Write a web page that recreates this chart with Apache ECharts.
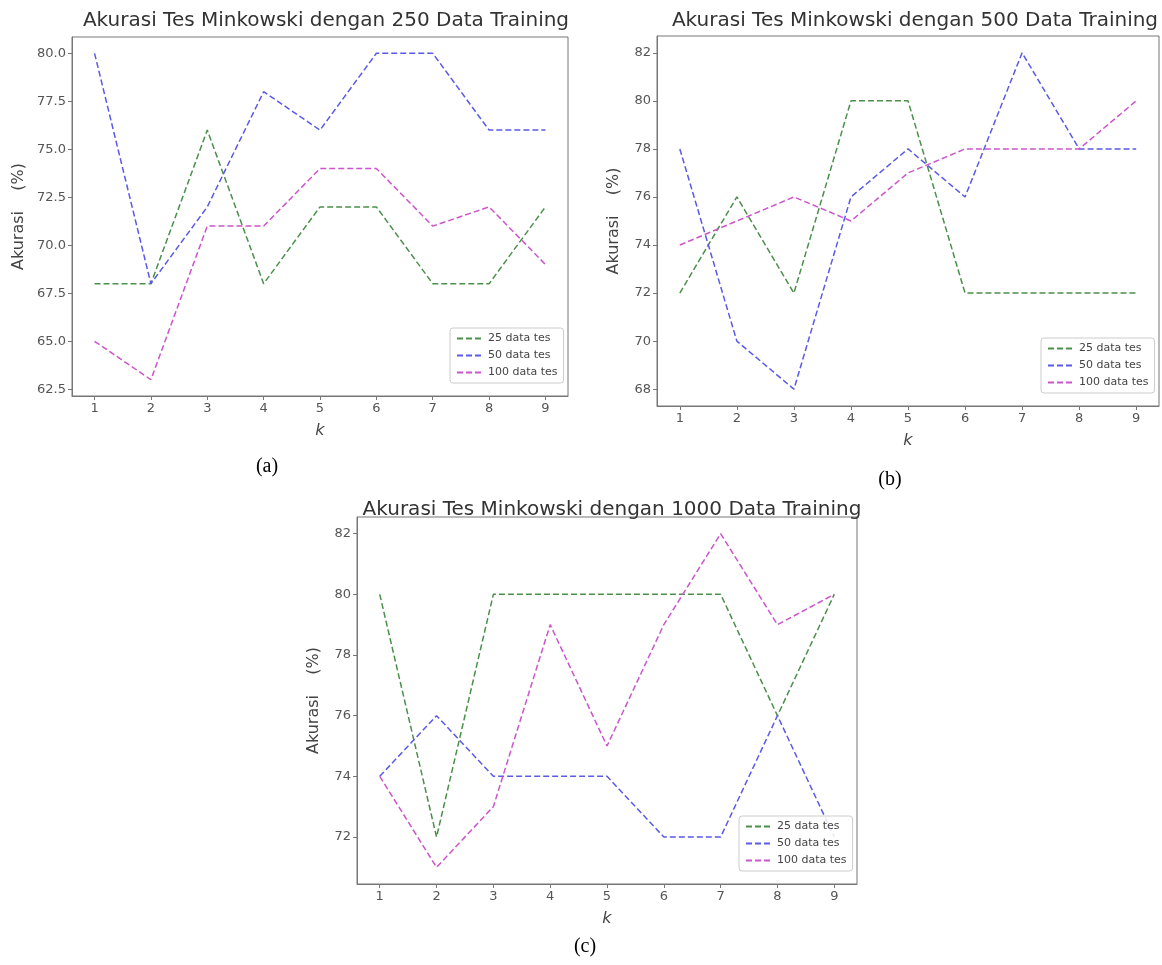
<!DOCTYPE html>
<html>
<head>
<meta charset="utf-8">
<script src="https://cdn.jsdelivr.net/npm/echarts@6/dist/echarts.min.js"></script>
<style>
  html, body { margin: 0; padding: 0; background: #fff; }
  #chart { width: 1162px; height: 965px; }
</style>
</head>
<body>
<div id="chart"></div>
<script>
// k values and tick labels
const kValues = [1, 2, 3, 4, 5, 6, 7, 8, 9]
const seriesNames = ['25 data tes', '50 data tes', '100 data tes']

// (a) 250 data training
const acc250_25 = [68, 68, 76, 68, 72, 72, 68, 68, 72]
const acc250_50 = [80, 68, 72, 78, 76, 80, 80, 76, 76]
const acc250_100 = [65, 63, 71, 71, 74, 74, 71, 72, 69]
const ticks250 = [62.5, 65, 67.5, 70, 72.5, 75, 77.5, 80]

// (b) 500 data training
const acc500_25 = [72, 76, 72, 80, 80, 72, 72, 72, 72]
const acc500_50 = [78, 70, 68, 76, 78, 76, 82, 78, 78]
const acc500_100 = [74, 75, 76, 75, 77, 78, 78, 78, 80]
const ticks500 = [68, 70, 72, 74, 76, 78, 80, 82]

// (c) 1000 data training
const acc1000_25 = [80, 72, 80, 80, 80, 80, 80, 76, 80]
const acc1000_50 = [74, 76, 74, 74, 74, 72, 72, 76, 72]
const acc1000_100 = [74, 71, 73, 79, 75, 79, 82, 79, 80]
const ticks1000 = [72, 74, 76, 78, 80, 82]

const colors = ['#4a8f4a', '#5a5ae6', '#cc55cc']

const panels = [
  { title: 'Akurasi Tes Minkowski dengan 250 Data Training', caption: '(a)',
    data: [acc250_25, acc250_50, acc250_100], ticks: ticks250, decimals: 1,
    grid: { left: 72, top: 37, width: 496, height: 359 }, titleX: 321, titleY: 6,
    capX: 262, capY: 452, nameGap: 45 },
  { title: 'Akurasi Tes Minkowski dengan 500 Data Training', caption: '(b)',
    data: [acc500_25, acc500_50, acc500_100], ticks: ticks500, decimals: 0,
    grid: { left: 657, top: 36, width: 502, height: 370 }, titleX: 910, titleY: 6,
    capX: 885, capY: 465, nameGap: 35 },
  { title: 'Akurasi Tes Minkowski dengan 1000 Data Training', caption: '(c)',
    data: [acc1000_25, acc1000_50, acc1000_100], ticks: ticks1000, decimals: 0,
    grid: { left: 357, top: 517, width: 500, height: 367 }, titleX: 607, titleY: 495,
    capX: 580, capY: 932, nameGap: 35 }
]

function range(arrs) {
  const all = arrs.flat()
  const lo = Math.min(...all)
  const hi = Math.max(...all)
  const pad = (hi - lo) * 0.05
  return [lo - pad, hi + pad]
}

const option = {
  animation: false,
  title: [],
  legend: [],
  grid: [],
  xAxis: [],
  yAxis: [],
  series: []
}

panels.forEach((p, i) => {
  const [yMin, yMax] = range(p.data)
  option.title.push({
    text: p.title, left: p.titleX, top: p.titleY, textAlign: 'center',
    textStyle: { fontFamily: 'DejaVu Sans', fontSize: 20, fontWeight: 'normal', color: '#333' }
  })
  option.title.push({
    text: p.caption, left: p.capX, top: p.capY, textAlign: 'center',
    textStyle: { fontFamily: 'Liberation Serif', fontSize: 20, fontWeight: 'normal', color: '#000' }
  })
  option.grid.push({
    ...p.grid, show: true, borderColor: '#777', borderWidth: 1, backgroundColor: '#fff'
  })
  option.xAxis.push({
    type: 'value', gridIndex: i, min: 0.6, max: 9.4,
    name: 'k', nameLocation: 'middle', nameGap: 27,
    nameTextStyle: { fontFamily: 'DejaVu Sans', fontSize: 16, fontStyle: 'italic', color: '#444' },
    axisLine: { show: true, lineStyle: { color: '#777' } },
    axisTick: { show: true, length: 4, lineStyle: { color: '#777' }, customValues: kValues },
    axisLabel: { fontFamily: 'DejaVu Sans', fontSize: 13, color: '#555', margin: 6, customValues: kValues },
    splitLine: { show: false }
  })
  option.yAxis.push({
    type: 'value', gridIndex: i, min: yMin, max: yMax,
    name: 'Akurasi    (%)', nameLocation: 'middle', nameGap: p.nameGap,
    nameTextStyle: { fontFamily: 'DejaVu Sans', fontSize: 16, color: '#444' },
    axisLine: { show: true, lineStyle: { color: '#777' } },
    axisTick: { show: true, length: 4, lineStyle: { color: '#777' }, customValues: p.ticks },
    axisLabel: {
      fontFamily: 'DejaVu Sans', fontSize: 13, color: '#555', margin: 6, customValues: p.ticks,
      formatter: v => v.toFixed(p.decimals)
    },
    splitLine: { show: false }
  })
  p.data.forEach((arr, s) => {
    option.series.push({
      name: seriesNames[s], type: 'line', xAxisIndex: i, yAxisIndex: i,
      data: kValues.map((k, j) => [k, arr[j]]),
      symbol: 'none', showSymbol: false, color: colors[s],
      lineStyle: { type: [6, 3], width: 1.5, color: colors[s] }
    })
  })
  const g = p.grid
  option.legend.push({
    data: seriesNames, orient: 'vertical',
    left: g.left + g.width - 118, top: g.top + g.height - 68,
    backgroundColor: 'rgba(255,255,255,0.85)', borderColor: '#ccc', borderWidth: 1, borderRadius: 3,
    padding: [5, 6], itemGap: 6, itemWidth: 26, itemHeight: 10,
    itemStyle: { opacity: 0, borderWidth: 0 },
    textStyle: { fontFamily: 'DejaVu Sans', fontSize: 11, color: '#444' }
  })
})

const chart = echarts.init(document.getElementById('chart'))
chart.setOption(option)
</script>
</body>
</html>
